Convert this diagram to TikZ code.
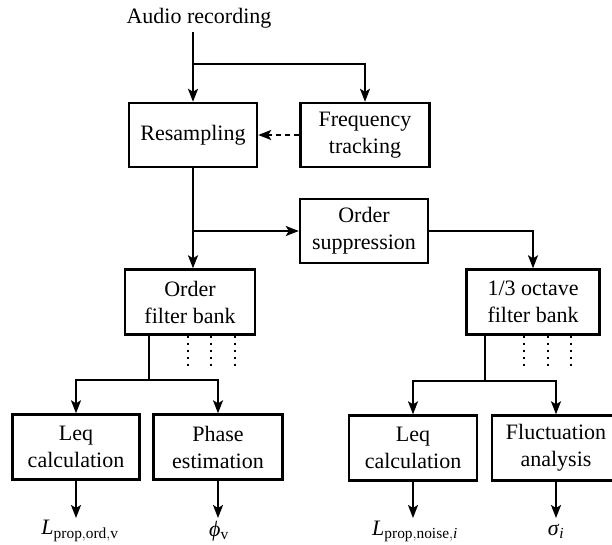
\documentclass[tikz,border=0pt]{standalone}
\usepackage{fontspec}
\setmainfont{Liberation Serif}
\usetikzlibrary{positioning, arrows.meta}

\begin{document}
\begin{tikzpicture}[
        x=1pt, y=-1pt,
        block/.style={draw, line width=2.4pt, minimum width=128pt, minimum height=64pt, align=center, inner sep=0pt, font=\fontsize{22}{27}\selectfont},
        outtext/.style={inner sep=3pt, font=\fontsize{22}{27}\selectfont},
        arrow/.style={-{Stealth[length=13pt,width=10pt,inset=3pt]}, line width=2pt},
        dashline/.style={arrow, dash pattern=on 5pt off 4pt},
        dotline/.style={line width=2pt, dash pattern=on 2pt off 5pt}
    ]
    \useasboundingbox (0,0) rectangle (612,544);

    % input and first stage
    \node[outtext, anchor=base, inner sep=4pt] (audio) at (199,23) {Audio recording};
    \node[block] (res) at (193,135) {Resampling};
    \node[block, minimum width=129pt] (freq) at (365,135) {Frequency\\tracking};
    \coordinate (sp1) at (res.north |- 0,64);

    \draw[arrow] (audio.south -| res.north) -- (res.north);
    \draw[arrow] (sp1) -| (freq.north);
    \draw[dashline] (freq.west) -- (res.east);

    % second stage
    \node[block] (supp) at (364,231) {Order\\suppression};
    \node[block, minimum width=130pt, minimum height=65pt] (ofb) at (190,302) {Order\\filter bank};
    \node[block, minimum width=133pt, minimum height=65pt] (oct) at (533,302) {1/3 octave\\filter bank};

    \draw[arrow] (res.south) -- (res.south |- ofb.north);
    \draw[arrow] (res.south |- supp.west) -- (supp.west);
    \draw[arrow] (supp.east) -| (oct.north);

    % filter bank outputs
    \foreach \dx in {64,87,111}
        \draw[dotline] ([xshift=\dx pt]ofb.south west) -- ++(0,31);
    \foreach \dx in {59,83,106}
        \draw[dotline] ([xshift=\dx pt]oct.south west) -- ++(0,31);

    % third stage
    \node[block, minimum width=127pt, minimum height=65pt] (leqa) at (76,447) {Leq\\calculation};
    \node[block, minimum width=129pt, minimum height=65pt] (phase) at (218,447) {Phase\\estimation};
    \node[block, minimum height=65pt] (leqb) at (413,448) {Leq\\calculation};
    \node[block, minimum height=65pt] (fluct) at (556,448) {Fluctuation\\analysis};

    \coordinate (spa) at (149,380);
    \coordinate (spb) at (485,381);
    \draw[line width=2pt] (ofb.south -| spa) -- (spa);
    \draw[arrow] (spa) -| (leqa.north);
    \draw[arrow] (spa) -| (phase.north);
    \draw[line width=2pt] (oct.south -| spb) -- (spb);
    \draw[arrow] (spb) -| (leqb.north);
    \draw[arrow] (spb) -| (fluct.north);

    % results
    \node[outtext] (outa) at (80,531) {$\mathit{L}_{\mathrm{prop,ord,v}}$};
    \node[outtext] (outb) at (219,531) {\textit{ϕ}$_{\mathrm{v}}$};
    \node[outtext] (outc) at (415,531) {$\mathit{L}_{\mathrm{prop,noise},\mathit{i}}$};
    \node[outtext] (outd) at (556,531) {\textit{σ}$_{\mathit{i}}$};

    \draw[arrow] (leqa.south) -- (leqa.south |- 0,518);
    \draw[arrow] (phase.south) -- (phase.south |- 0,518);
    \draw[arrow] (leqb.south) -- (leqb.south |- 0,518);
    \draw[arrow] (fluct.south) -- (fluct.south |- 0,518);
\end{tikzpicture}
\end{document}
